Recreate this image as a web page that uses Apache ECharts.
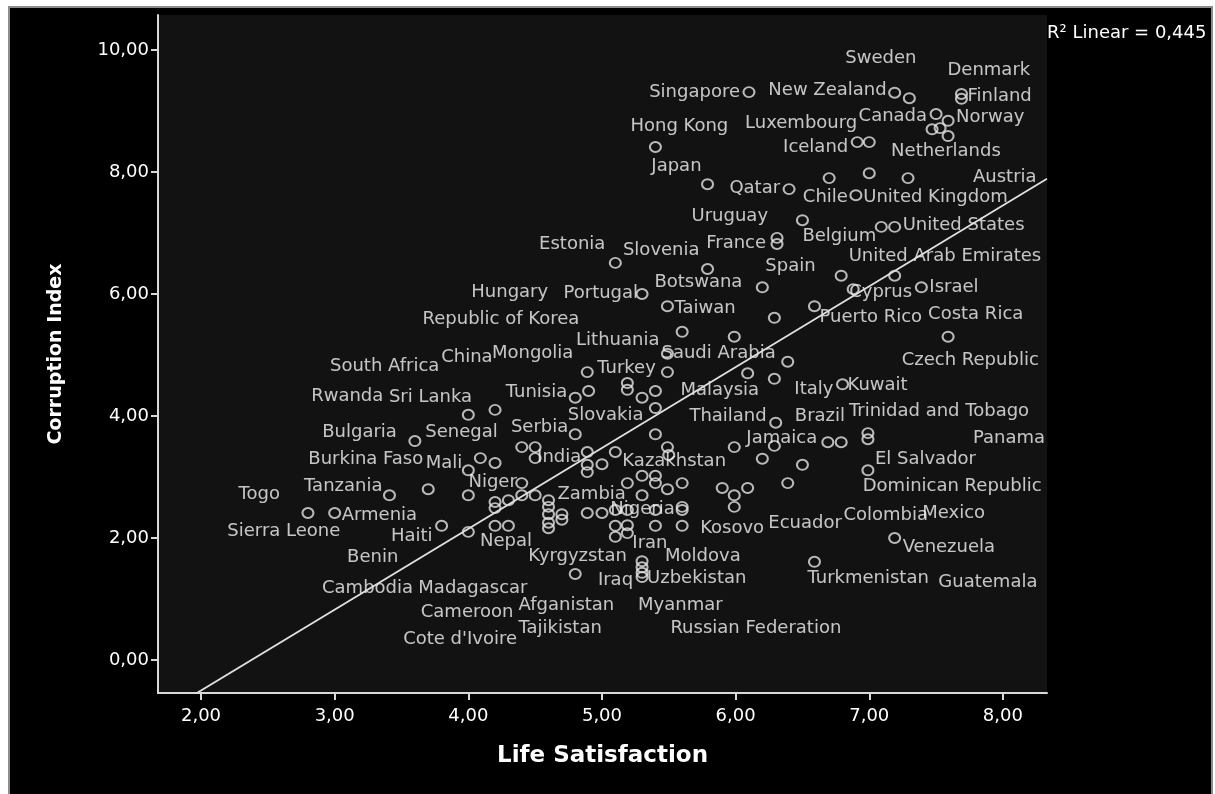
<!DOCTYPE html>
<html>
<head>
<meta charset="utf-8">
<title>Life Satisfaction vs Corruption Index</title>
<script src="https://cdn.jsdelivr.net/npm/echarts@6/dist/echarts.min.js"></script>
<style>
  html, body { margin: 0; padding: 0; background: #fff; }
  #chart { width: 1215px; height: 794px; }
</style>
</head>
<body>
<div id="chart"></div>
<script>
// Labelled countries
const countries = [
  'Sweden','Denmark','Finland','Singapore','New Zealand','Canada','Norway','Netherlands','Luxembourg','Iceland',
  'Hong Kong','Japan','Qatar','Chile','United Kingdom','Austria','Uruguay','France','Belgium','United States',
  'Estonia','Slovenia','Spain','United Arab Emirates','Botswana','Portugal','Hungary','Cyprus','Israel','Taiwan',
  'Republic of Korea','Puerto Rico','Costa Rica','Lithuania','China','Mongolia','South Africa','Saudi Arabia','Czech Republic','Turkey',
  'Tunisia','Rwanda','Sri Lanka','Malaysia','Italy','Kuwait','Slovakia','Thailand','Brazil','Trinidad and Tobago',
  'Bulgaria','Senegal','Serbia','Jamaica','Panama','India','El Salvador','Kazakhstan','Niger','Dominican Republic',
  'Tanzania','Togo','Zambia','Armenia','Nigeria','Sierra Leone','Haiti','Nepal','Kosovo','Ecuador',
  'Colombia','Mexico','Venezuela','Iran','Benin','Kyrgyzstan','Moldova','Iraq','Uzbekistan','Turkmenistan',
  'Guatemala','Cambodia','Madagascar','Afganistan','Myanmar','Cameroon','Tajikistan','Russian Federation',"Cote d'Ivoire",'Burkina Faso',
  'Mali'
];
const lifeSatisfaction = [
  7.30,7.69,7.69,6.10,7.19,7.50,7.59,7.59,7.00,6.91,
  5.40,5.79,6.40,6.90,7.00,7.29,6.31,6.31,6.50,7.19,
  5.10,5.79,6.20,7.19,6.29,5.30,5.60,6.88,7.39,5.49,
  5.99,6.59,7.59,5.49,4.90,5.19,5.19,5.49,6.39,4.89,
  4.80,4.00,4.20,5.40,6.29,6.80,5.40,6.30,6.69,6.99,
  3.60,4.09,4.80,6.29,6.99,4.89,6.99,5.19,4.40,6.39,
  3.41,2.80,4.60,3.00,5.10,4.00,3.80,4.20,5.60,5.99,
  6.50,6.79,7.19,5.19,4.00,4.80,5.30,5.30,5.30,6.59,
  6.20,4.20,4.60,4.89,5.30,4.30,4.60,5.40,4.20,3.70,
  4.00
];
const corruptionIndex = [
  9.21,9.20,9.28,9.31,9.30,8.95,8.84,8.59,8.49,8.49,
  8.41,7.80,7.72,7.62,7.98,7.90,6.92,6.82,7.21,7.10,
  6.51,6.41,6.11,6.30,5.61,6.00,5.38,6.08,6.11,5.80,
  5.30,5.80,5.30,4.72,4.41,4.54,4.43,5.02,4.89,4.72,
  4.30,4.02,4.10,4.41,4.61,4.52,4.13,3.89,3.57,3.72,
  3.59,3.31,3.70,3.51,3.62,3.41,3.11,2.90,2.90,2.90,
  2.70,2.41,2.62,2.41,2.46,2.10,2.20,2.20,2.20,2.51,
  3.20,3.57,2.00,2.08,2.70,1.41,1.62,1.52,1.43,1.61,
  3.30,2.59,2.51,2.41,1.36,2.20,2.16,2.20,2.49,2.80,
  3.11
];

// Countries plotted without a visible label
const otherLifeSatisfaction = [
  7.47,7.53,6.70,7.09,6.79,6.09,5.40,5.49,5.50,5.99,
  5.10,4.89,5.00,4.89,5.30,5.40,5.40,5.49,5.60,5.30,
  5.90,6.09,5.99,5.60,4.40,4.50,4.50,4.20,4.30,4.40,
  4.50,4.60,4.70,4.70,4.60,5.00,5.19,5.10,5.19,5.10,
  5.40,5.60,5.30
];
const otherCorruptionIndex = [
  8.70,8.72,7.90,7.10,6.30,4.70,3.70,3.49,3.36,3.49,
  3.41,3.20,3.21,3.08,3.02,3.02,2.90,2.80,2.90,2.70,
  2.82,2.82,2.70,2.51,3.49,3.49,3.31,3.23,2.62,2.70,
  2.70,2.39,2.39,2.30,2.25,2.41,2.46,2.20,2.21,2.02,
  2.46,2.46,4.30
];

const xTicks = [2, 3, 4, 5, 6, 7, 8];
const yTicks = [0, 2, 4, 6, 8, 10];
const rSquaredLinear = 0.445;

// Label placement relative to each point: [dx, dy, side]
// side 'l' = text starts at dx, 'r' = text ends at dx
const labelPlacement = {
  'Sweden':[-64,-40,'l'], 'Denmark':[-14,-28,'l'], 'Finland':[6,2,'l'], 'Singapore':[-9,0,'r'],
  'New Zealand':[-8,-2,'r'], 'Canada':[-9,2,'r'], 'Norway':[8,-3,'l'], 'Netherlands':[-57,15,'l'],
  'Luxembourg':[-12,-19,'r'], 'Iceland':[-9,5,'r'], 'Hong Kong':[-25,-21,'l'], 'Japan':[-6,-18,'r'],
  'Qatar':[-9,-1,'r'], 'Chile':[-8,2,'r'], 'United Kingdom':[-6,24,'l'], 'Austria':[65,-1,'l'],
  'Uruguay':[-9,-22,'r'], 'France':[-11,-1,'r'], 'Belgium':[0,16,'l'], 'United States':[8,-2,'l'],
  'Estonia':[-10,-19,'r'], 'Slovenia':[-8,-19,'r'], 'Spain':[3,-21,'l'], 'United Arab Emirates':[-46,-19,'l'],
  'Botswana':[-32,-35,'r'], 'Portugal':[-4,-1,'r'], 'Hungary':[-134,-39,'r'], 'Cyprus':[-4,3,'l'],
  'Israel':[8,0,'l'], 'Taiwan':[7,2,'l'], 'Republic of Korea':[-155,-17,'r'], 'Puerto Rico':[5,11,'l'],
  'Costa Rica':[-20,-22,'l'], 'Lithuania':[-8,-32,'r'], 'China':[-96,-34,'r'], 'Mongolia':[-54,-30,'r'],
  'South Africa':[-188,-23,'r'], 'Saudi Arabia':[-6,0,'l'], 'Czech Republic':[114,-1,'l'], 'Turkey':[10,-4,'l'],
  'Tunisia':[-8,-5,'r'], 'Rwanda':[-85,-18,'r'], 'Sri Lanka':[-23,-13,'r'], 'Malaysia':[25,-1,'l'],
  'Italy':[20,11,'l'], 'Kuwait':[5,1,'l'], 'Slovakia':[-12,7,'r'], 'Thailand':[-9,-6,'r'],
  'Brazil':[-33,-26,'l'], 'Trinidad and Tobago':[-19,-22,'l'], 'Bulgaria':[-18,-9,'r'], 'Senegal':[-55,-26,'l'],
  'Serbia':[-7,-7,'r'], 'Jamaica':[-28,-8,'l'], 'Panama':[105,-1,'l'], 'India':[-6,5,'r'],
  'El Salvador':[7,-11,'l'], 'Kazakhstan':[-5,-22,'l'], 'Niger':[-5,-1,'r'], 'Dominican Republic':[75,3,'l'],
  'Tanzania':[-7,-9,'r'], 'Togo':[-28,-19,'r'], 'Zambia':[9,-6,'l'], 'Armenia':[7,2,'l'],
  'Nigeria':[-5,-1,'l'], 'Sierra Leone':[-128,-1,'r'], 'Haiti':[-9,11,'r'], 'Nepal':[-15,16,'l'],
  'Kosovo':[18,3,'l'], 'Ecuador':[34,16,'l'], 'Colombia':[41,51,'l'], 'Mexico':[81,71,'l'],
  'Venezuela':[8,9,'l'], 'Iran':[5,10,'l'], 'Benin':[-70,62,'r'], 'Kyrgyzstan':[-47,-18,'l'],
  'Moldova':[23,-5,'l'], 'Iraq':[-9,13,'r'], 'Uzbekistan':[5,6,'l'], 'Turkmenistan':[-7,17,'l'],
  'Guatemala':[176,124,'l'], 'Cambodia':[-82,86,'r'], 'Madagascar':[-21,81,'r'], 'Afganistan':[27,92,'r'],
  'Myanmar':[-4,28,'l'], 'Cameroon':[5,87,'r'], 'Tajikistan':[-30,100,'l'], 'Russian Federation':[15,103,'l'],
  "Cote d'Ivoire":[22,131,'r'], 'Burkina Faso':[-5,-30,'r'], 'Mali':[-6,-7,'r']
};

// Axis extent
const X_MIN = 1.678, X_MAX = 8.33;
const Y_MIN = -0.541, Y_MAX = 10.574;

// Least-squares linear fit over all countries
const allX = lifeSatisfaction.concat(otherLifeSatisfaction);
const allY = corruptionIndex.concat(otherCorruptionIndex);
const n = allX.length;
const meanX = allX.reduce((a, b) => a + b, 0) / n;
const meanY = allY.reduce((a, b) => a + b, 0) / n;
let sxy = 0, sxx = 0;
for (let i = 0; i < n; i++) {
  sxy += (allX[i] - meanX) * (allY[i] - meanY);
  sxx += (allX[i] - meanX) * (allX[i] - meanX);
}
const slope = sxy / sxx;
const intercept = meanY - slope * meanX;
const fitLine = [X_MIN, X_MAX].map(x => [x, intercept + slope * x]);

const FONT = '"DejaVu Sans", Verdana, sans-serif';
const fmt2 = v => v.toFixed(2).replace('.', ',');

const labelledData = countries.map((name, i) => ({
  name: name,
  value: [lifeSatisfaction[i], corruptionIndex[i]]
}));
const otherData = otherLifeSatisfaction.map((x, i) => [x, otherCorruptionIndex[i]]);

const pointStyle = {
  color: 'rgba(0,0,0,0)',
  borderColor: '#e4e4e4',
  borderWidth: 2
};

const chart = echarts.init(document.getElementById('chart'), null, { renderer: 'canvas' });
chart.setOption({
  animation: false,
  backgroundColor: '#ffffff',
  graphic: [
    {
      type: 'rect', z: -100, silent: true,
      shape: { x: 9, y: 7, width: 1203, height: 800 },
      style: { fill: '#000000', stroke: '#8c8c8c', lineWidth: 2 }
    },
    {
      type: 'text', left: 1047, top: 24, silent: true,
      style: {
        text: 'R\u00b2 Linear = ' + rSquaredLinear.toFixed(3).replace('.', ','),
        fill: '#ffffff', font: '18px ' + FONT
      }
    }
  ],
  grid: {
    left: 158, right: 168, top: 15, bottom: 101,
    show: true, backgroundColor: '#121212', borderWidth: 0
  },
  xAxis: {
    type: 'value', min: X_MIN, max: X_MAX,
    name: 'Life Satisfaction', nameLocation: 'middle', nameGap: 52,
    nameTextStyle: { color: '#ffffff', fontFamily: FONT, fontWeight: 'bold', fontSize: 23 },
    axisLine: { show: true, onZero: false, lineStyle: { color: '#d8d8d8', width: 2 } },
    axisTick: { show: true, customValues: xTicks, length: 7, lineStyle: { color: '#d8d8d8', width: 2 } },
    axisLabel: { customValues: xTicks, formatter: fmt2, color: '#ffffff', fontFamily: FONT, fontSize: 18, margin: 14 },
    splitLine: { show: false }
  },
  yAxis: {
    type: 'value', min: Y_MIN, max: Y_MAX,
    name: 'Corruption Index', nameLocation: 'middle', nameGap: 92,
    nameTextStyle: { color: '#ffffff', fontFamily: FONT, fontWeight: 'bold', fontSize: 19 },
    axisLine: { show: true, onZero: false, lineStyle: { color: '#d8d8d8', width: 2 } },
    axisTick: { show: true, customValues: yTicks, length: 7, lineStyle: { color: '#d8d8d8', width: 2 } },
    axisLabel: { customValues: yTicks, formatter: fmt2, color: '#ffffff', fontFamily: FONT, fontSize: 18, margin: 9 },
    splitLine: { show: false }
  },
  series: [
    {
      type: 'line', data: fitLine, symbol: 'none', clip: true, silent: true, z: 3,
      lineStyle: { color: '#e0e0e0', width: 1.8 }
    },
    {
      type: 'scatter', data: otherData, symbol: 'circle', symbolSize: [11, 10],
      itemStyle: pointStyle, silent: true, z: 2, emphasis: { disabled: true }
    },
    {
      type: 'scatter', data: labelledData, symbol: 'circle', symbolSize: [11, 10],
      itemStyle: pointStyle, silent: true, z: 2, emphasis: { disabled: true },
      label: {
        show: true, position: 'inside', formatter: '{b}', verticalAlign: 'middle',
        color: '#f2f2f2', fontFamily: FONT, fontSize: 18
      },
      // shift each label to its placement beside the point
      labelLayout: function (params) {
        const p = labelPlacement[countries[params.dataIndex]] || [6, 0, 'l'];
        const r = params.labelRect;
        const cx = params.rect.x + params.rect.width / 2;
        const cy = params.rect.y + params.rect.height / 2;
        const left = p[2] === 'r' ? cx + p[0] - r.width : cx + p[0];
        return {
          x: left, y: cy + p[1] - r.height / 2,
          align: 'left', verticalAlign: 'top',
          hideOverlap: false
        };
      }
    }
  ]
});
</script>
</body>
</html>
